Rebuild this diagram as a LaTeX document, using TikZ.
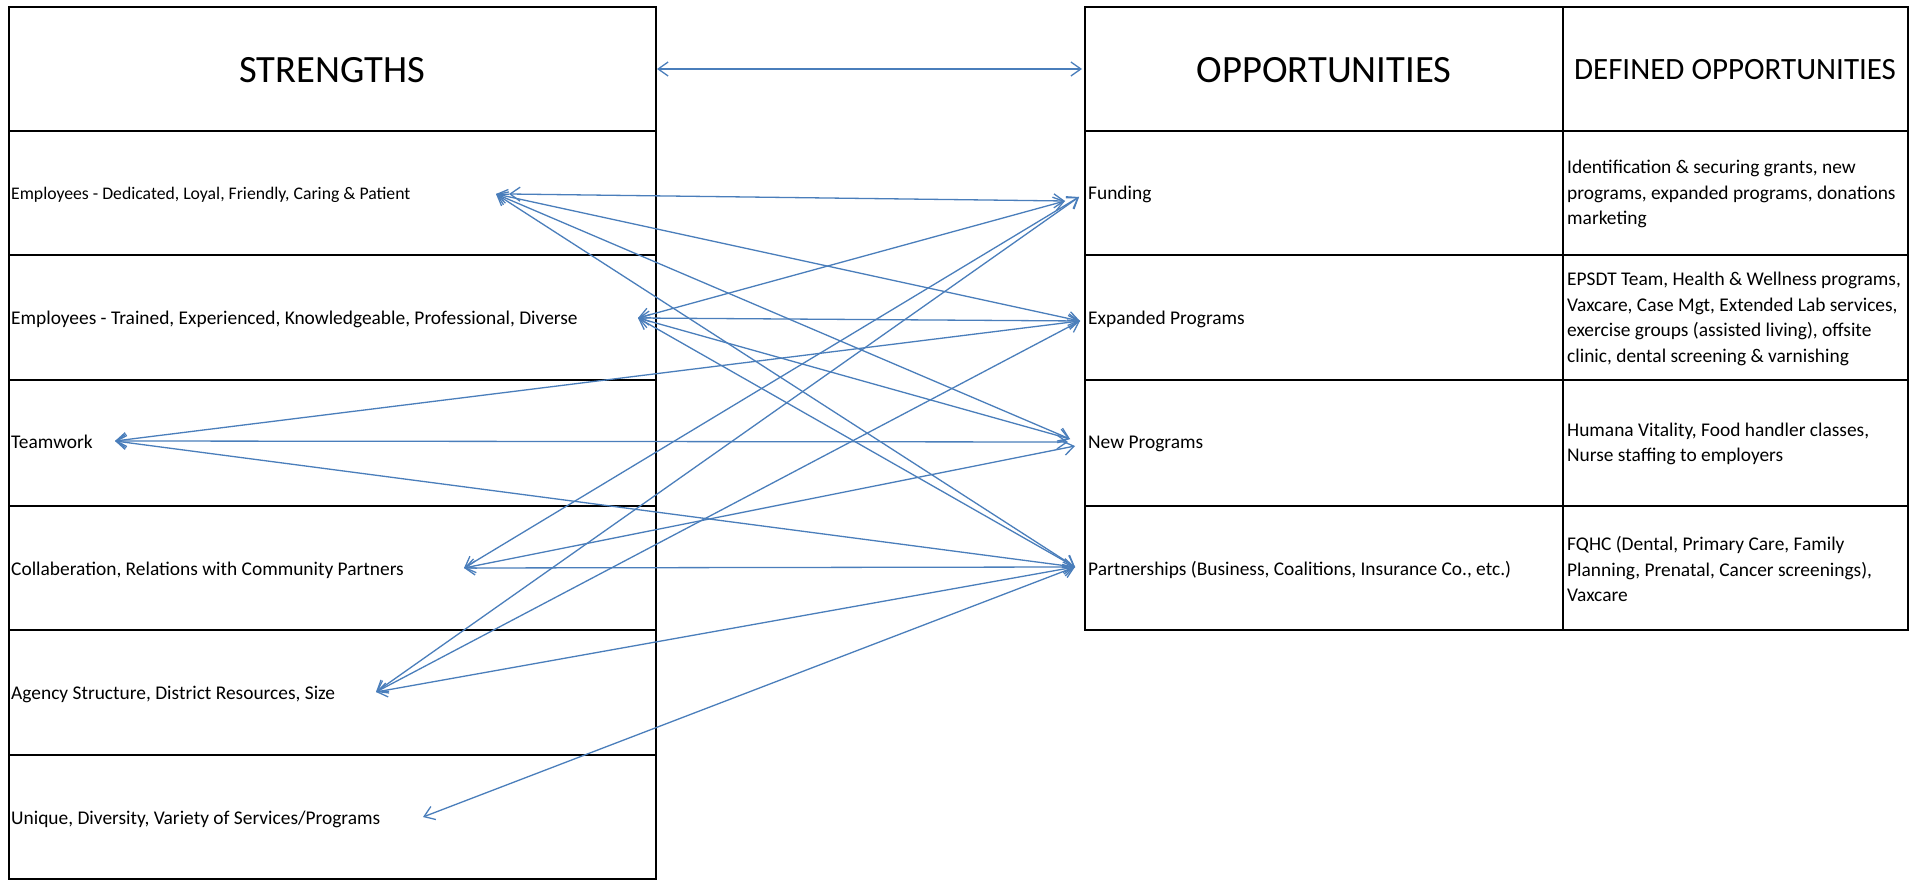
\documentclass[tikz,border=0pt]{standalone}
\usepackage{fontspec}
\setmainfont{Carlito}
\usetikzlibrary{arrows.meta}
\definecolor{conn}{RGB}{74,126,187}
\begin{document}
\begin{tikzpicture}[x=1pt,y=-1pt,
  grid/.style={draw=black,line width=2pt},
  body/.style={anchor=base west,inner sep=0pt,font=\fontsize{19.4}{25.5}\selectfont},
  smallbody/.style={anchor=base west,inner sep=0pt,font=\fontsize{17.7}{24}\selectfont},
  defn/.style={anchor=west,inner sep=0pt,align=left,font=\fontsize{19.4}{25.5}\selectfont},
  head/.style={inner sep=0pt,font=\fontsize{38.6}{44}\selectfont},
  subhead/.style={inner sep=0pt,font=\fontsize{31}{36}\selectfont},
  link/.style={draw=conn,line width=1.3pt,{Straight Barb[length=10pt,width=14pt]}-{Straight Barb[length=10pt,width=14pt]}}]
\useasboundingbox (0,0) rectangle (1915,882);
\fill[white] (0,0) rectangle (1915,882);
% left table
\draw[grid] (8.5,7.3) rectangle (656,879.3);
\foreach \yy in {130.7,255.3,379.8,505.6,630.2,754.8} \draw[grid] (8.5,\yy) -- (656,\yy);
% right table
\draw[grid] (1084.5,7.3) rectangle (1907.6,630.2);
\draw[grid] (1563,7.3) -- (1563,630.2);
\foreach \yy in {130.7,255.3,379.8,505.6} \draw[grid] (1084.5,\yy) -- (1907.6,\yy);
% headers
\node[head] (hS) at (332,70) {STRENGTHS};
\node[head] (hO) at (1324,70) {OPPORTUNITIES};
\node[subhead] (hD) at (1735,70) {DEFINED OPPORTUNITIES};
\coordinate (hl) at (657,69);
\coordinate (hr) at (1082,69);
% strengths
\node[smallbody] (s1) at (11,199.5) {Employees - Dedicated, Loyal, Friendly, Caring \& Patient};
\node[body] (s2) at (11,324.5) {Employees - Trained, Experienced, Knowledgeable, Professional, Diverse};
\node[body] (s3) at (11,449) {Teamwork};
\node[body] (s4) at (11,575) {Collaberation, Relations with Community Partners};
\node[body] (s5) at (11,699.5) {Agency Structure, District Resources, Size};
\node[body] (s6) at (11,824) {Unique, Diversity, Variety of Services/Programs};
% opportunities
\node[body] (o1) at (1088,200) {Funding};
\node[body] (o2) at (1088,324.5) {Expanded Programs};
\node[body] (o3) at (1088,449) {New Programs};
\node[body] (o4) at (1088,575) {Partnerships (Business, Coalitions, Insurance Co., etc.)};
% defined
\node[defn] (d1) at (1567,194) {Identification \& securing grants, new\\programs, expanded programs, donations\\marketing};
\node[defn] (d2) at (1567,319) {EPSDT Team, Health \& Wellness programs,\\Vaxcare, Case Mgt, Extended Lab services,\\exercise groups (assisted living), offsite\\clinic, dental screening \& varnishing};
\node[defn] (d3) at (1567,444) {Humana Vitality, Food handler classes,\\Nurse staffing to employers};
\node[defn] (d4) at (1567,569) {FQHC (Dental, Primary Care, Family\\Planning, Prenatal, Cancer screenings),\\Vaxcare};
% connector ends
\coordinate (e1a) at (496,194);
\coordinate (e1b) at (509,194);
\coordinate (e2) at (638,318);
\coordinate (tw) at (115,441);
\coordinate (co) at (464,568);
\coordinate (ag) at (376,692);
\coordinate (un) at (423,817);
\coordinate (fu1) at (1065,201);
\coordinate (fu2) at (1079,197);
\coordinate (ex) at (1080,321);
\coordinate (nw1) at (1070,439);
\coordinate (nw2) at (1068,442);
\coordinate (nw3) at (1075,446);
\coordinate (pa) at (1075,567);
% connectors
\draw[link] (hl) -- (hr);
\draw[link] (e1b) -- (fu1);
\draw[link] (e1a) -- (ex);
\draw[link] (e1a) -- (nw1);
\draw[link] (e1a) -- (pa);
\draw[link] (e2) -- (fu1);
\draw[link] (e2) -- (ex);
\draw[link] (e2) -- (nw1);
\draw[link] (e2) -- (pa);
\draw[link] (tw) -- (ex);
\draw[link] (tw) -- (nw2);
\draw[link] (tw) -- (pa);
\draw[link] (co) -- (fu2);
\draw[link] (co) -- (nw3);
\draw[link] (co) -- (pa);
\draw[link] (ag) -- (fu2);
\draw[link] (ag) -- (ex);
\draw[link] (ag) -- (pa);
\draw[link] (un) -- (pa);
\end{tikzpicture}
\end{document}
